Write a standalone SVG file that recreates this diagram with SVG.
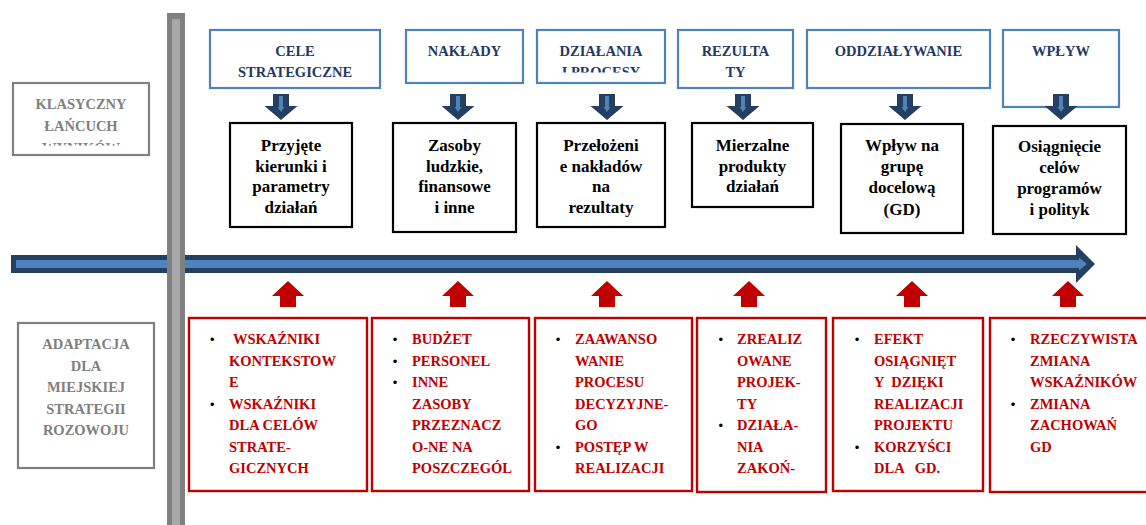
<svg xmlns="http://www.w3.org/2000/svg" width="1146" height="525" viewBox="0 0 1146 525">
<style>
text{font-family:"Liberation Serif","Times New Roman",serif;font-weight:bold;}
.top{fill:none;stroke:#4f81bd;stroke-width:2.2;}
.toptx{fill:#1f3864;font-size:14.5px;text-anchor:middle;}
.blk{fill:#fff;stroke:#000;stroke-width:2.2;}
.blktx{fill:#000;font-size:17px;text-anchor:middle;}
.red{fill:#fff;stroke:#c00000;stroke-width:2.4;}
.redtx{fill:#c00000;font-size:14.5px;}
.bul{fill:#000;font-family:"Liberation Sans",Arial,sans-serif;font-size:13px;text-anchor:middle;font-weight:normal;}
.gry{fill:#fff;stroke:#808080;stroke-width:2.2;}
.grytx{fill:#7f7f7f;font-size:14.5px;text-anchor:middle;}
</style>
<defs>
<g id="darr"><path d="M-8,94 H8 V106 H16.5 L0,120 L-16.5,106 H-8 Z" fill="#243f60"/><path d="M-2,96 H2 V107 H3.5 L0,112 L-3.5,107 H-2 Z" fill="#4f81bd"/></g>
<path id="rarr" d="M0,281 L16,296 H8 V307 H-8 V296 H-16 Z" fill="#c00000"/>
<clipPath id="clipK"><rect x="13" y="83" width="136" height="62.5"/></clipPath>
<clipPath id="clipD"><rect x="537" y="30" width="128" height="42.5"/></clipPath>
</defs>

<g id="connectors">
<path d="M11,255 H1076 V245 L1095,264 L1076,283 V273 H11 Z" fill="#243f60"/>
<path d="M16,260 H1079 V257.5 L1087,264 L1079,270.5 V268 H16 Z" fill="#4f81bd"/>
<use href="#darr" x="281"/>
<use href="#darr" x="458"/>
<use href="#darr" x="607"/>
<use href="#darr" x="743"/>
<use href="#darr" x="905"/>
<use href="#rarr" x="288"/>
<use href="#rarr" x="458"/>
<use href="#rarr" x="607"/>
<use href="#rarr" x="749"/>
<use href="#rarr" x="912"/>
<use href="#rarr" x="1068"/>
</g>

<g id="divider">
<rect x="167" y="13" width="18" height="520" fill="#808080"/>
<rect x="172" y="19" width="8" height="510" fill="#a6a6a6"/>
</g>

<g id="label-klasyczny">
<rect class="gry" x="13" y="83" width="136" height="72"/>
<g clip-path="url(#clipK)">
<text class="grytx" x="81" y="109">KLASYCZNY</text>
<text class="grytx" x="81" y="131">ŁAŃCUCH</text>
<text class="grytx" x="81" y="152.5">WYNIKÓW</text>
</g>
</g>

<g id="label-adaptacja">
<rect class="gry" x="18" y="323" width="136" height="145"/>
<text class="grytx" x="86" y="349">ADAPTACJA</text>
<text class="grytx" x="86" y="371">DLA</text>
<text class="grytx" x="86" y="392">MIEJSKIEJ</text>
<text class="grytx" x="86" y="414">STRATEGII</text>
<text class="grytx" x="86" y="435">ROZOWOJU</text>
</g>

<g id="top-cele">
<rect class="top" x="210" y="30" width="170" height="58"/>
<text class="toptx" x="295" y="56">CELE</text>
<text class="toptx" x="295" y="77">STRATEGICZNE</text>
</g>
<g id="top-naklady">
<rect class="top" x="406" y="30" width="117" height="53"/>
<text class="toptx" x="464.5" y="56">NAKŁADY</text>
</g>
<g id="top-dzialania">
<rect class="top" x="537" y="30" width="128" height="53"/>
<text class="toptx" x="601" y="56">DZIAŁANIA</text>
<g clip-path="url(#clipD)"><text class="toptx" x="601" y="77">I PROCESY</text></g>
</g>
<g id="top-rezultaty">
<rect class="top" x="678" y="30" width="115" height="58"/>
<text class="toptx" x="735.5" y="56">REZULTA</text>
<text class="toptx" x="735.5" y="77">TY</text>
</g>
<g id="top-oddzialywanie">
<rect class="top" x="807" y="30" width="183" height="58"/>
<text class="toptx" x="898.5" y="56">ODDZIAŁYWANIE</text>
</g>
<g id="top-wplyw">
<rect class="top" x="1003" y="30" width="116" height="77"/>
<text class="toptx" x="1061" y="56">WPŁYW</text>
</g>
<g id="arrow-wplyw"><use href="#darr" x="1061"/></g>

<g id="mid-1">
<rect class="blk" x="230" y="123" width="122" height="104"/>
<text class="blktx" x="291" y="151">Przyjęte</text>
<text class="blktx" x="291" y="171.7">kierunki i</text>
<text class="blktx" x="291" y="192.4">parametry</text>
<text class="blktx" x="291" y="213.1">działań</text>
</g>
<g id="mid-2">
<rect class="blk" x="393" y="123" width="123" height="109"/>
<text class="blktx" x="454.5" y="151">Zasoby</text>
<text class="blktx" x="454.5" y="171.7">ludzkie,</text>
<text class="blktx" x="454.5" y="192.4">finansowe</text>
<text class="blktx" x="454.5" y="213.1">i inne</text>
</g>
<g id="mid-3">
<rect class="blk" x="537" y="123" width="128" height="104"/>
<text class="blktx" x="601" y="151">Przełożeni</text>
<text class="blktx" x="601" y="171.7">e nakładów</text>
<text class="blktx" x="601" y="192.4">na</text>
<text class="blktx" x="601" y="213.1">rezultaty</text>
</g>
<g id="mid-4">
<rect class="blk" x="692" y="123" width="121" height="84"/>
<text class="blktx" x="752.5" y="151">Mierzalne</text>
<text class="blktx" x="752.5" y="171.7">produkty</text>
<text class="blktx" x="752.5" y="192.4">działań</text>
</g>
<g id="mid-5">
<rect class="blk" x="841" y="124" width="122" height="109"/>
<text class="blktx" x="902" y="151">Wpływ na</text>
<text class="blktx" x="902" y="172">grupę</text>
<text class="blktx" x="902" y="193.3">docelową</text>
<text class="blktx" x="902" y="214.6">(GD)</text>
</g>
<g id="mid-6">
<rect class="blk" x="993" y="126" width="133" height="108"/>
<text class="blktx" x="1059.5" y="152">Osiągnięcie</text>
<text class="blktx" x="1059.5" y="173">celów</text>
<text class="blktx" x="1059.5" y="194">programów</text>
<text class="blktx" x="1059.5" y="215">i polityk</text>
</g>

<g id="bottom-1">
<rect class="red" x="189" y="318" width="178" height="173"/>
<text class="bul" x="212.3" y="344">•</text>
<text class="bul" x="212.3" y="409">•</text>
<text class="redtx" x="233" y="344">WSKAŹNIKI</text>
<text class="redtx" x="229" y="365.5">KONTEKSTOW</text>
<text class="redtx" x="229" y="387">E</text>
<text class="redtx" x="229" y="408.5">WSKAŹNIKI</text>
<text class="redtx" x="229" y="430">DLA CELÓW</text>
<text class="redtx" x="229" y="451.5">STRATE-</text>
<text class="redtx" x="229" y="473">GICZNYCH</text>
</g>
<g id="bottom-2">
<rect class="red" x="372" y="318" width="157" height="173"/>
<text class="bul" x="395" y="344">•</text>
<text class="bul" x="395" y="365.5">•</text>
<text class="bul" x="395" y="387">•</text>
<text class="redtx" x="412" y="344">BUDŻET</text>
<text class="redtx" x="412" y="365.5">PERSONEL</text>
<text class="redtx" x="412" y="387">INNE</text>
<text class="redtx" x="412" y="408.5">ZASOBY</text>
<text class="redtx" x="412" y="430">PRZEZNACZ</text>
<text class="redtx" x="412" y="451.5">O-NE NA</text>
<text class="redtx" x="412" y="473">POSZCZEGÓL</text>
</g>
<g id="bottom-3">
<rect class="red" x="535" y="318" width="157" height="173"/>
<text class="bul" x="558" y="344">•</text>
<text class="bul" x="558" y="451.5">•</text>
<text class="redtx" x="575" y="344">ZAAWANSO</text>
<text class="redtx" x="575" y="365.5">WANIE</text>
<text class="redtx" x="575" y="387">PROCESU</text>
<text class="redtx" x="575" y="408.5">DECYZYJNE-</text>
<text class="redtx" x="575" y="430">GO</text>
<text class="redtx" x="575" y="451.5">POSTĘP W</text>
<text class="redtx" x="575" y="473">REALIZACJI</text>
</g>
<g id="bottom-4">
<rect class="red" x="697" y="318" width="129" height="174"/>
<text class="bul" x="720.7" y="344">•</text>
<text class="bul" x="720.7" y="430">•</text>
<text class="redtx" x="737" y="344">ZREALIZ</text>
<text class="redtx" x="737" y="365.5">OWANE</text>
<text class="redtx" x="737" y="387">PROJEK-</text>
<text class="redtx" x="737" y="408.5">TY</text>
<text class="redtx" x="737" y="430">DZIAŁA-</text>
<text class="redtx" x="737" y="451.5">NIA</text>
<text class="redtx" x="737" y="473">ZAKOŃ-</text>
</g>
<g id="bottom-5">
<rect class="red" x="833" y="318" width="150" height="173"/>
<text class="bul" x="857" y="344">•</text>
<text class="bul" x="857" y="451.5">•</text>
<text class="redtx" x="874" y="344">EFEKT</text>
<text class="redtx" x="874" y="365.5">OSIĄGNIĘT</text>
<text class="redtx" x="874" y="387" xml:space="preserve">Y  DZIĘKI</text>
<text class="redtx" x="874" y="408.5">REALIZACJI</text>
<text class="redtx" x="874" y="430">PROJEKTU</text>
<text class="redtx" x="874" y="451.5">KORZYŚCI</text>
<text class="redtx" x="874" y="473" xml:space="preserve">DLA   GD.</text>
</g>
<g id="bottom-6">
<rect class="red" x="990" y="318" width="165" height="174"/>
<text class="bul" x="1013" y="344">•</text>
<text class="bul" x="1013" y="408.5">•</text>
<text class="redtx" x="1030" y="344">RZECZYWISTA</text>
<text class="redtx" x="1030" y="365.5">ZMIANA</text>
<text class="redtx" x="1030" y="387">WSKAŹNIKÓW</text>
<text class="redtx" x="1030" y="408.5">ZMIANA</text>
<text class="redtx" x="1030" y="430">ZACHOWAŃ</text>
<text class="redtx" x="1030" y="451.5">GD</text>
</g>
</svg>
